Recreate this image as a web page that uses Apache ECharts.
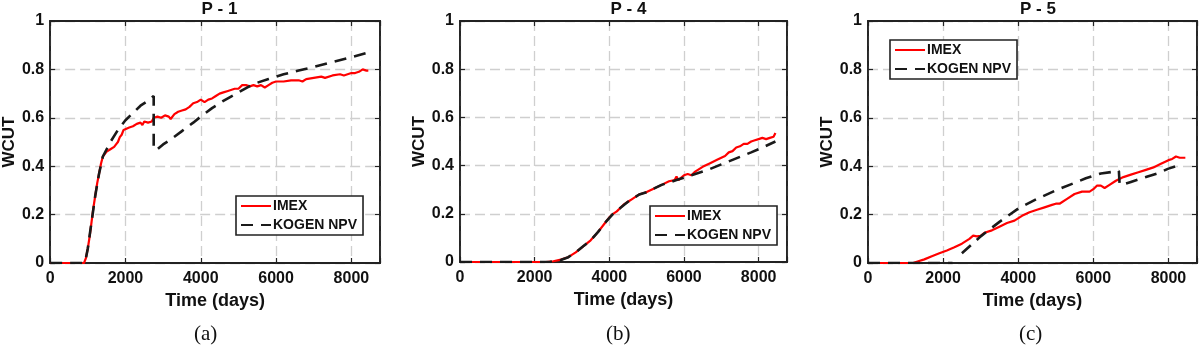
<!DOCTYPE html>
<html>
<head>
<meta charset="utf-8">
<script src="https://cdn.jsdelivr.net/npm/echarts@6/dist/echarts.min.js"></script>
<style>
  html, body { margin: 0; padding: 0; background: #fff; }
  #chart { width: 1200px; height: 350px; }
</style>
</head>
<body>
<div id="chart"></div>
<script>
// panel titles and captions
const wellNames = ['P - 1', 'P - 4', 'P - 5'];
const captions = ['(a)', '(b)', '(c)'];
const seriesNames = ['IMEX', 'KOGEN NPV'];
const xTicks = [0, 2000, 4000, 6000, 8000];

// P - 1
const p1ImexDays = [0, 300, 600, 900, 950, 1000, 1050, 1100, 1150, 1200, 1250, 1300, 1350, 1400, 1450, 1500, 1600, 1650, 1700, 1750, 1800, 1850, 1900, 1950, 2000, 2100, 2200, 2300, 2400, 2450, 2500, 2600, 2700, 2750, 2850, 2950, 3050, 3150, 3200, 3300, 3400, 3500, 3600, 3700, 3800, 3900, 4000, 4100, 4200, 4300, 4400, 4500, 4600, 4700, 4800, 4900, 5000, 5100, 5200, 5300, 5400, 5500, 5600, 5700, 5800, 5900, 6000, 6200, 6400, 6600, 6700, 6800, 7000, 7200, 7300, 7500, 7700, 7800, 8000, 8100, 8200, 8300, 8350, 8400, 8450];
const p1ImexWcut = [0, 0, 0, 0, 0.02, 0.06, 0.11, 0.17, 0.23, 0.28, 0.33, 0.37, 0.41, 0.44, 0.45, 0.46, 0.47, 0.465, 0.48, 0.49, 0.50, 0.52, 0.53, 0.55, 0.55, 0.56, 0.565, 0.575, 0.58, 0.57, 0.585, 0.58, 0.585, 0.60, 0.605, 0.60, 0.61, 0.605, 0.595, 0.615, 0.625, 0.63, 0.635, 0.645, 0.66, 0.665, 0.675, 0.665, 0.675, 0.68, 0.69, 0.70, 0.705, 0.71, 0.715, 0.72, 0.72, 0.735, 0.735, 0.73, 0.735, 0.73, 0.735, 0.725, 0.735, 0.745, 0.75, 0.75, 0.755, 0.755, 0.75, 0.76, 0.765, 0.77, 0.765, 0.775, 0.78, 0.775, 0.785, 0.785, 0.79, 0.80, 0.805, 0.795, 0.795];
const p1KogenDays = [0, 900, 950, 1000, 1100, 1200, 1300, 1400, 1500, 1600, 1800, 2000, 2200, 2400, 2600, 2750, 2750, 2850, 3000, 3200, 3500, 3800, 4000, 4300, 4600, 5000, 5400, 5800, 6200, 6600, 7000, 7500, 8000, 8450];
const p1KogenWcut = [0, 0, 0.02, 0.06, 0.17, 0.28, 0.37, 0.44, 0.47, 0.50, 0.55, 0.59, 0.62, 0.65, 0.67, 0.69, 0.47, 0.47, 0.49, 0.51, 0.545, 0.58, 0.605, 0.64, 0.67, 0.705, 0.74, 0.76, 0.78, 0.795, 0.81, 0.83, 0.85, 0.87];

// P - 4
const p4ImexDays = [0, 2300, 2500, 2700, 2900, 3100, 3300, 3500, 3700, 3900, 4000, 4100, 4200, 4300, 4400, 4500, 4600, 4700, 4800, 4900, 5000, 5200, 5400, 5600, 5750, 5800, 5850, 6000, 6100, 6200, 6300, 6500, 6700, 6900, 7100, 7200, 7300, 7400, 7500, 7600, 7700, 7800, 7900, 8000, 8100, 8200, 8300, 8350, 8400, 8450];
const p4ImexWcut = [0, 0, 0.003, 0.01, 0.02, 0.04, 0.065, 0.09, 0.125, 0.165, 0.185, 0.20, 0.21, 0.225, 0.24, 0.25, 0.26, 0.27, 0.28, 0.285, 0.29, 0.305, 0.32, 0.335, 0.34, 0.355, 0.34, 0.36, 0.365, 0.36, 0.375, 0.395, 0.41, 0.425, 0.44, 0.455, 0.46, 0.475, 0.48, 0.49, 0.49, 0.50, 0.505, 0.51, 0.515, 0.51, 0.515, 0.51, 0.52, 0.535];
const p4KogenDays = [0, 2400, 2700, 2900, 3100, 3300, 3500, 3700, 3900, 4100, 4300, 4500, 4800, 5000, 5400, 5800, 6200, 6600, 7000, 7400, 7800, 8100, 8450];
const p4KogenWcut = [0, 0, 0.008, 0.02, 0.04, 0.065, 0.09, 0.125, 0.165, 0.20, 0.225, 0.25, 0.28, 0.29, 0.32, 0.34, 0.36, 0.38, 0.405, 0.43, 0.455, 0.475, 0.50];

// P - 5
const p5ImexDays = [0, 1200, 1300, 1500, 1700, 1900, 2100, 2300, 2500, 2700, 2800, 2900, 3000, 3100, 3300, 3500, 3700, 3900, 4100, 4300, 4500, 4700, 4900, 5000, 5100, 5300, 5500, 5700, 5900, 6000, 6100, 6200, 6300, 6400, 6600, 6800, 7000, 7200, 7400, 7600, 7800, 8000, 8100, 8200, 8300, 8450];
const p5ImexWcut = [0, 0, 0.005, 0.015, 0.028, 0.04, 0.052, 0.065, 0.08, 0.10, 0.113, 0.11, 0.112, 0.125, 0.135, 0.15, 0.165, 0.175, 0.195, 0.21, 0.22, 0.23, 0.24, 0.245, 0.245, 0.265, 0.285, 0.295, 0.295, 0.305, 0.32, 0.32, 0.31, 0.32, 0.34, 0.355, 0.365, 0.375, 0.385, 0.395, 0.41, 0.425, 0.43, 0.44, 0.435, 0.435];
const p5KogenDays = [0, 2250, 2350, 2500, 3000, 3500, 4000, 4500, 5000, 5400, 5800, 6200, 6680, 6700, 6800, 7000, 7400, 7700, 8000, 8200];
const p5KogenWcut = [0, 0, null, 0.04, 0.11, 0.17, 0.225, 0.265, 0.30, 0.325, 0.35, 0.37, 0.38, 0.325, 0.325, 0.335, 0.355, 0.37, 0.39, 0.40];

function zip(xs, ys) {
  return xs.map((x, i) => [x, ys[i]]);
}
const imexData = [zip(p1ImexDays, p1ImexWcut), zip(p4ImexDays, p4ImexWcut), zip(p5ImexDays, p5ImexWcut)];
const kogenData = [zip(p1KogenDays, p1KogenWcut), zip(p4KogenDays, p4KogenWcut), zip(p5KogenDays, p5KogenWcut)];

const FONT = '"Liberation Sans", Arial, sans-serif';
const gridBoxes = [
  { left: 49, top: 21, width: 331, height: 242 },
  { left: 460, top: 21, width: 327, height: 241 },
  { left: 868, top: 21, width: 330, height: 242 }
];
const legendPos = [
  { left: 236, top: 196 },
  { left: 650, top: 206 },
  { left: 890, top: 40 }
];
const captionX = [208, 620, 1033];

const grid = [], xAxis = [], yAxis = [], series = [], legend = [], title = [], graphic = [];
const tickStyle = { inside: true, length: 5, lineStyle: { color: '#222', width: 1.2 } };
const lineStyle = { onZero: false, lineStyle: { color: '#222', width: 1.8 } };

for (let i = 0; i < 3; i++) {
  const g = gridBoxes[i];
  grid.push({ left: g.left, top: g.top, width: g.width, height: g.height, show: true, borderColor: '#222', borderWidth: 1.6, containLabel: false });
  title.push({
    text: wellNames[i], left: g.left + g.width / 2, top: -4, textAlign: 'center',
    textStyle: { fontFamily: FONT, fontSize: 17, fontWeight: 'bold', color: '#111' }
  });
  // bottom x axis
  xAxis.push({
    type: 'value', gridIndex: i, min: 0, max: 8760, interval: 2000,
    name: 'Time (days)', nameLocation: 'middle', nameGap: 29,
    nameTextStyle: { fontFamily: FONT, fontSize: 18, fontWeight: 'bold', color: '#111' },
    axisLine: lineStyle, axisTick: tickStyle,
    axisLabel: { margin: 8, fontFamily: FONT, fontSize: 16, fontWeight: 'bold', color: '#111',
      formatter: v => (xTicks.indexOf(v) >= 0 ? String(v) : '') },
    splitLine: { show: true, lineStyle: { color: '#cfcfcf', width: 1.3, type: [10, 5] } }
  });
  // top x axis, ticks only
  xAxis.push({
    type: 'value', gridIndex: i, position: 'top', min: 0, max: 8760, interval: 2000,
    axisLine: lineStyle, axisTick: tickStyle, axisLabel: { show: false }, splitLine: { show: false }
  });
  yAxis.push({
    type: 'value', gridIndex: i, min: 0, max: 1, interval: 0.2,
    name: 'WCUT', nameLocation: 'middle', nameGap: 32,
    nameTextStyle: { fontFamily: FONT, fontSize: 17, fontWeight: 'bold', color: '#111' },
    axisLine: lineStyle, axisTick: tickStyle,
    axisLabel: { margin: 6, fontFamily: FONT, fontSize: 16, fontWeight: 'bold', color: '#111' },
    splitLine: { show: true, lineStyle: { color: '#cfcfcf', width: 1.3, type: [10, 5] } }
  });
  yAxis.push({
    type: 'value', gridIndex: i, position: 'right', min: 0, max: 1, interval: 0.2,
    axisLine: lineStyle, axisTick: tickStyle, axisLabel: { show: false }, splitLine: { show: false }
  });
  series.push({
    name: seriesNames[0], type: 'line', xAxisIndex: 2 * i, yAxisIndex: 2 * i,
    data: imexData[i], symbol: 'none', animation: false,
    lineStyle: { color: '#ff0000', width: 2.2 }, itemStyle: { color: '#ff0000' }
  });
  series.push({
    name: seriesNames[1], type: 'line', xAxisIndex: 2 * i, yAxisIndex: 2 * i,
    data: kogenData[i], symbol: 'none', animation: false,
    lineStyle: { color: '#1a1a1a', width: 2.6, type: [12, 8] }, itemStyle: { color: '#1a1a1a' }
  });
  legend.push({
    data: seriesNames, orient: 'vertical', left: legendPos[i].left, top: legendPos[i].top,
    itemWidth: 30, itemHeight: 16, itemGap: 5, padding: [3, 6, 3, 4],
    backgroundColor: '#fff', borderColor: '#222', borderWidth: 1.6,
    selectedMode: false,
    itemStyle: { opacity: 0 },
    textStyle: { fontFamily: FONT, fontSize: 14, fontWeight: 'bold', color: '#111', padding: [0, 0, 0, -3] }
  });
  graphic.push({
    type: 'text', left: captionX[i] - 14, top: 324,
    style: { text: captions[i], font: '21px "Liberation Serif", "Times New Roman", serif', fill: '#111' }
  });
}

const myChart = echarts.init(document.getElementById('chart'));
myChart.setOption({
  animation: false,
  title: title,
  grid: grid,
  xAxis: xAxis,
  yAxis: yAxis,
  legend: legend,
  series: series,
  graphic: graphic
});
</script>
</body>
</html>
